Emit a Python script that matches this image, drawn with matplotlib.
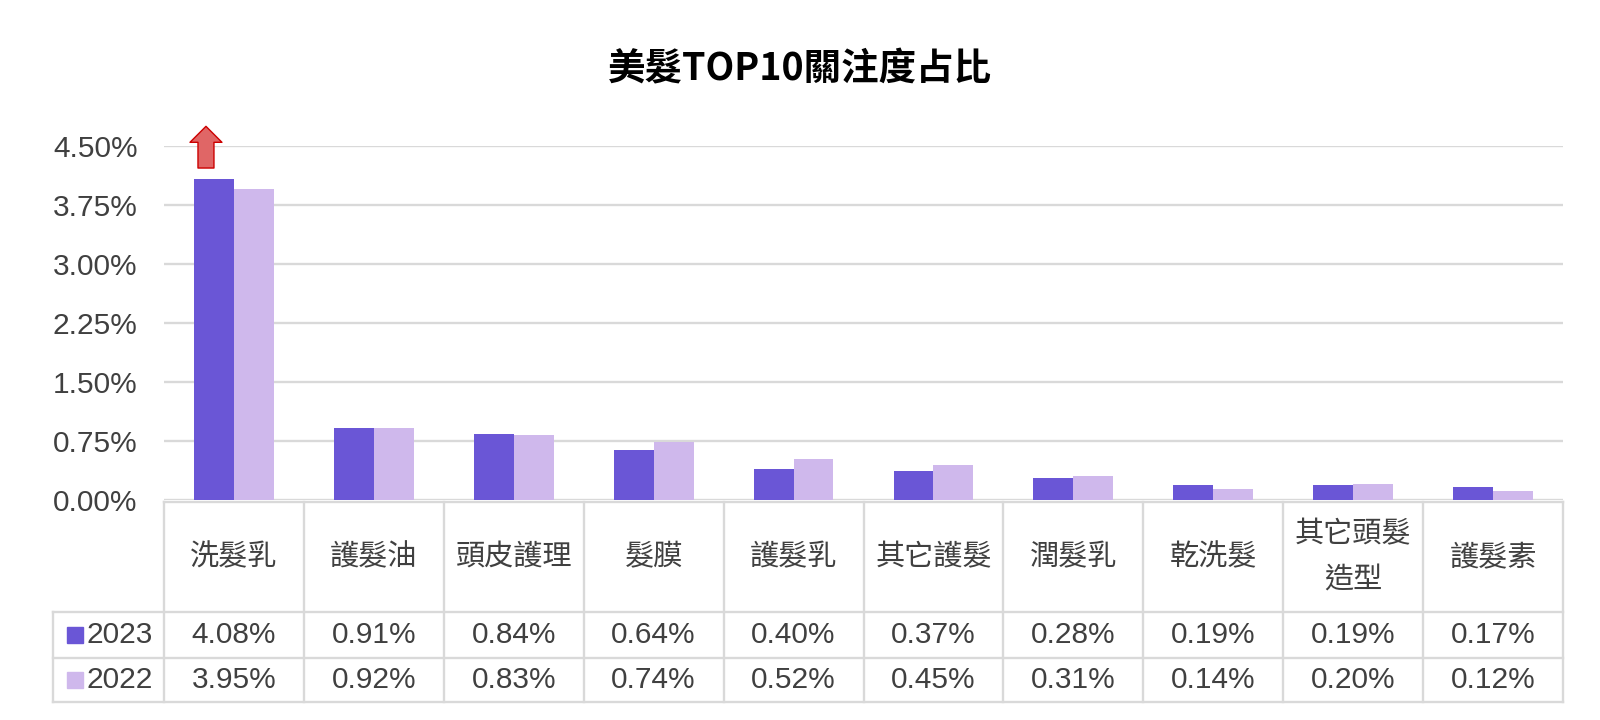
import matplotlib.pyplot as plt
import numpy as np

plt.rcParams['font.family'] = ['Liberation Sans', 'Noto Sans CJK TC']

# 資料
categories = ['洗髮乳', '護髮油', '頭皮護理', '髮膜', '護髮乳', '其它護髮', '潤髮乳', '乾洗髮', '其它頭髮\n造型', '護髮素']
series_names = ['2023', '2022']
v2023 = [4.08, 0.91, 0.84, 0.64, 0.40, 0.37, 0.28, 0.19, 0.19, 0.17]
v2022 = [3.95, 0.92, 0.83, 0.74, 0.52, 0.45, 0.31, 0.14, 0.20, 0.12]
yticks = [0, 0.75, 1.5, 2.25, 3.0, 3.75, 4.5]

c2023 = '#6A56D6'
c2022 = '#CFB8EC'
grid_c = '#D9D9D9'
txt_c = '#404040'

W, H = 1600, 720
fig = plt.figure(figsize=(16, 7.2), dpi=100)

# 主圖
ax = fig.add_axes([164 / W, (H - 500) / H, (1563 - 164) / W, (500 - 146) / H])
x = np.arange(len(categories))
bw = 0.285
ax.bar(x - bw / 2, v2023, bw, color=c2023, zorder=3)
ax.bar(x + bw / 2, v2022, bw, color=c2022, zorder=3)
ax.set_xlim(-0.5, len(categories) - 0.5)
ax.set_ylim(0, 4.5)
ax.set_yticks(yticks)
ax.set_yticklabels(['%.2f%%' % t for t in yticks], fontsize=21.5, color=txt_c)
ax.tick_params(axis='y', length=0, pad=19)
ax.set_xticks([])
ax.grid(axis='y', color=grid_c, linewidth=1.7, zorder=0)
for s in ax.spines.values():
    s.set_visible(False)

# 紅色箭頭
ax.annotate('', xy=(-0.2, 4.75), xytext=(-0.2, 4.22), annotation_clip=False,
            arrowprops=dict(arrowstyle='simple,head_length=1.0,head_width=2.0,tail_width=1.0',
                            fc='#E06666', ec='#CC0000', lw=1, mutation_scale=11.5,
                            shrinkA=0, shrinkB=0))

# 標題
fig.text(0.5, 1 - 69 / H, '美髮TOP10關注度占比', ha='center', va='center',
         fontsize=27, fontweight='bold', family=['Noto Sans CJK TC'], color='black')

# 資料表
unit = (1563 - 164) / len(categories)
left_ext = (164 - 53) / unit
tx = fig.add_axes([53 / W, (H - 703) / H, (1563 - 53) / W, (703 - 501) / H])
tx.set_xlim(-0.5 - left_ext, len(categories) - 0.5)
tx.set_ylim(703, 501)
tx.axis('off')
xl, xr = -0.5 - left_ext, len(categories) - 0.5
lw = 1.7
tx.plot([-0.5, xr], [502, 502], color=grid_c, lw=lw, clip_on=False)
for yy in [612, 658, 702]:
    tx.plot([xl, xr], [yy, yy], color=grid_c, lw=lw, clip_on=False)
for i in range(len(categories) + 1):
    tx.plot([-0.5 + i, -0.5 + i], [502, 702], color=grid_c, lw=lw, clip_on=False)
tx.plot([xl, xl], [612, 702], color=grid_c, lw=lw, clip_on=False)

for i, c in enumerate(categories):
    tx.text(i, 557, c, ha='center', va='center', fontsize=21, color=txt_c,
            family=['Noto Sans CJK TC'], linespacing=1.7)
for row_y, vals, col, name in [(635, v2023, c2023, series_names[0]), (680, v2022, c2022, series_names[1])]:
    for i, v in enumerate(vals):
        tx.text(i, row_y, '%.2f%%' % v, ha='center', va='center', fontsize=21.5, color=txt_c)
    tx.plot([xl + (75 - 53) / unit], [row_y], marker='s', markersize=11.5, color=col, clip_on=False)
    tx.text(xl + (86 - 53) / unit, row_y, name, ha='left', va='center', fontsize=21.5, color=txt_c)

fig.savefig('out.png', dpi=100, facecolor='white')
